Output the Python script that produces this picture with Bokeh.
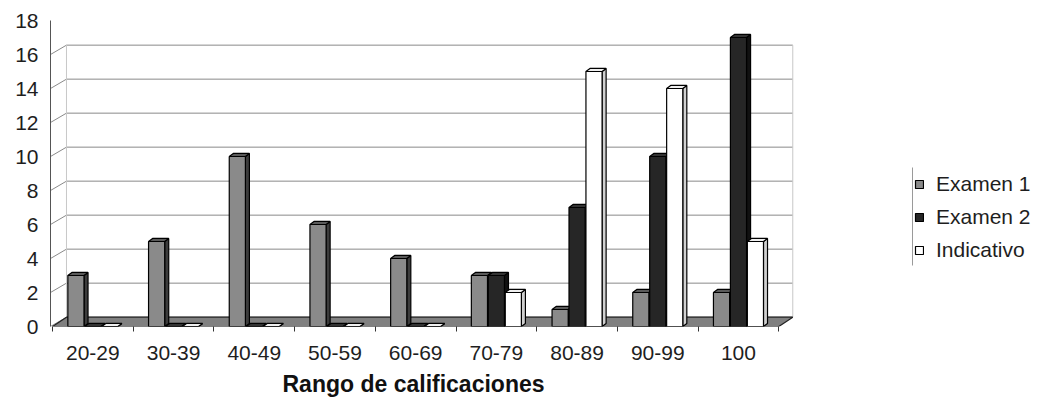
from bokeh.plotting import figure
from bokeh.models import Range1d, FixedTicker, Legend, LegendItem, Title
from bokeh.embed import file_html
from bokeh.resources import INLINE

# ---- data ----
categories = ["20-29", "30-39", "40-49", "50-59", "60-69", "70-79", "80-89", "90-99", "100"]
examen1 = [3, 5, 10, 6, 4, 3, 1, 2, 2]
examen2 = [0, 0, 0, 0, 0, 3, 7, 10, 17]
indicativo = [0, 0, 0, 0, 0, 2, 15, 14, 5]
series_names = ["Examen 1", "Examen 2", "Indicativo"]
y_ticks = [0, 2, 4, 6, 8, 10, 12, 14, 16, 18]
grid_values = [0, 2, 4, 6, 8, 10, 12, 14, 16]
x_title = "Rango de calificaciones"

# ---- style ----
FONT = "Liberation Sans"
TXT = "#1e1e1e"
front_colors = ["#8a8a8a", "#262626", "#ffffff"]
side_colors = ["#3c3c3c", "#111111", "#d0d0d0"]
top_colors = ["#5a5a5a", "#333333", "#f0f0f0"]
offsets = [-0.21, 0.0, 0.21]
bar_w = 0.2
bdx, bdy = 0.05, 0.18      # bar depth (3d look)
fdx, fdy = 0.173, 0.55     # floor / wall depth

n = len(categories)
px = 1 / 80.7              # data units per pixel along x
py = 18 / 306              # data units per pixel along y
frame_w = 983
x_start = -0.525
x_end = x_start + frame_w * px

p = figure(frame_width=frame_w, frame_height=306,
           x_range=Range1d(x_start, x_end), y_range=Range1d(0, 18),
           output_backend="svg", toolbar_location=None,
           min_border_left=50, min_border_top=20, min_border_right=2,
           min_border_bottom=2)
p.outline_line_color = None
p.xgrid.visible = False
p.ygrid.visible = False
p.background_fill_color = "white"
p.border_fill_color = "white"

# back wall grid lines + diagonals
left_back = -0.5 + fdx
right_back = n - 0.5 + fdx
p.segment(x0=[left_back] * len(grid_values), y0=[v + fdy for v in grid_values],
          x1=[right_back] * len(grid_values), y1=[v + fdy for v in grid_values],
          line_color="#8a8a8a", line_width=1)
p.segment(x0=[x_start] * len(grid_values), y0=grid_values,
          x1=[left_back] * len(grid_values), y1=[v + fdy for v in grid_values],
          line_color="#8a8a8a", line_width=1)
p.segment(x0=[left_back, right_back], y0=[fdy, fdy],
          x1=[left_back, right_back], y1=[grid_values[-1] + fdy, grid_values[-1] + fdy],
          line_color="#c8c8c8", line_width=1)

# floor
p.patch(x=[-0.5, n - 0.5, n - 0.5 + fdx, -0.5 + fdx], y=[0, 0, fdy, fdy],
        fill_color="#808080", line_color="#222222", line_width=1.2)

series = [examen1, examen2, indicativo]
legend_items = []
for s, vals in enumerate(series):
    lefts = [i + offsets[s] - bar_w / 2 for i in range(n)]
    rights = [i + offsets[s] + bar_w / 2 for i in range(n)]
    side_xs = [[r, r + bdx, r + bdx, r] for r in rights]
    side_ys = [[0, bdy, v + bdy, v] for v in vals]
    top_xs = [[l, r, r + bdx, l + bdx] for l, r in zip(lefts, rights)]
    top_ys = [[v, v, v + bdy, v + bdy] for v in vals]
    p.patches(xs=side_xs, ys=side_ys, fill_color=side_colors[s],
              line_color="black", line_width=1.2)
    p.patches(xs=top_xs, ys=top_ys, fill_color=top_colors[s],
              line_color="black", line_width=1.2)
    r = p.quad(left=lefts, right=rights, bottom=[0] * n, top=vals,
               fill_color=front_colors[s], line_color="black", line_width=1.2)
    legend_items.append(LegendItem(label=series_names[s], renderers=[r]))

# axes
xa = p.xaxis[0]
xa.ticker = FixedTicker(ticks=list(range(n)), minor_ticks=[i - 0.5 for i in range(n + 1)])
xa.major_label_overrides = {i: c for i, c in enumerate(categories)}
xa.major_tick_line_color = None
xa.major_tick_out = 0
xa.minor_tick_out = 5
xa.minor_tick_in = 0
xa.minor_tick_line_color = "#333333"
xa.axis_line_color = None
xa.major_label_standoff = 14
xa.major_label_text_font = FONT
xa.major_label_text_font_size = "21px"
xa.major_label_text_color = TXT

ya = p.yaxis[0]
ya.ticker = FixedTicker(ticks=y_ticks)
ya.major_tick_out = 0
ya.major_tick_in = 0
ya.minor_tick_line_color = None
ya.axis_line_color = "#555555"
ya.major_label_standoff = 12
ya.major_label_text_font = FONT
ya.major_label_text_font_size = "21px"
ya.major_label_text_color = TXT

title = Title(text=x_title, align="left", offset=232, standoff=12,
              text_font=FONT, text_font_size="23px", text_font_style="bold",
              text_color="#111111")
p.add_layout(title, "below")

# legend (inside the wide frame, to the right of the plot area)
leg_x, leg_y = 864, 64
legend = Legend(items=legend_items, location=(leg_x, leg_y),
                label_text_font=FONT, label_text_font_size="21px",
                label_text_color=TXT, glyph_width=10, glyph_height=10,
                label_standoff=12, label_height=24, spacing=9, padding=4,
                border_line_color=None, background_fill_alpha=0)
p.add_layout(legend, "center")
# thin left edge of the legend box
p.segment(x0=[x_start + (leg_x - 2) * px], y0=[(leg_y - 3) * py],
          x1=[x_start + (leg_x - 2) * px], y1=[(leg_y + 95) * py],
          line_color="#9a9a9a", line_width=1)

open("out.html", "w").write(file_html(p, INLINE))
